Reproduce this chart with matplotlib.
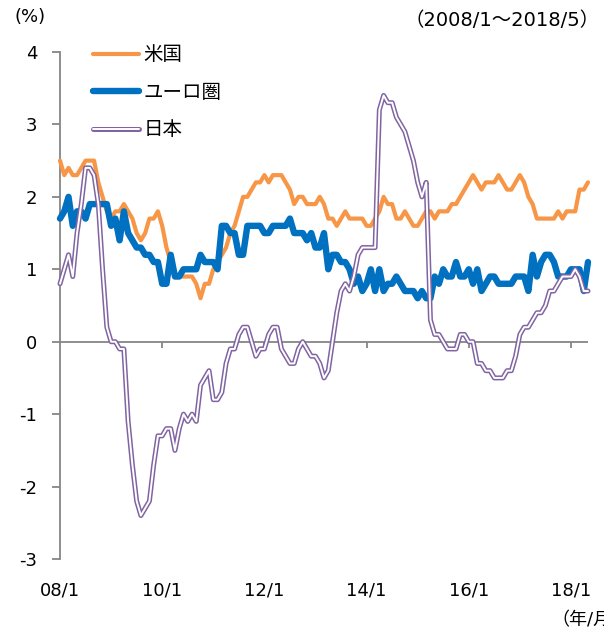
import numpy as np
import matplotlib
matplotlib.use("Agg")
import matplotlib.pyplot as plt
from matplotlib.legend_handler import HandlerTuple

plt.rcParams['font.family'] = ['DejaVu Sans', 'Noto Sans CJK JP']

# 月次データ 2008/1〜2018/5（前年比, %）
us = [2.5, 2.3, 2.4, 2.3, 2.3, 2.4, 2.5, 2.5, 2.5, 2.2, 2.0, 1.8,
      1.7, 1.8, 1.8, 1.9, 1.8, 1.7, 1.5, 1.4, 1.5, 1.7, 1.7, 1.8,
      1.6, 1.3, 1.1, 0.9, 0.9, 0.9, 0.9, 0.9, 0.8, 0.6, 0.8, 0.8,
      1.0, 1.1, 1.2, 1.3, 1.5, 1.6, 1.8, 2.0, 2.0, 2.1, 2.2, 2.2,
      2.3, 2.2, 2.3, 2.3, 2.3, 2.2, 2.1, 1.9, 2.0, 2.0, 1.9, 1.9,
      1.9, 2.0, 1.9, 1.7, 1.7, 1.6, 1.7, 1.8, 1.7, 1.7, 1.7, 1.7,
      1.6, 1.6, 1.7, 1.8, 2.0, 1.9, 1.9, 1.7, 1.7, 1.8, 1.7, 1.6,
      1.6, 1.7, 1.8, 1.8, 1.7, 1.8, 1.8, 1.8, 1.9, 1.9, 2.0, 2.1,
      2.2, 2.3, 2.2, 2.1, 2.2, 2.2, 2.2, 2.3, 2.2, 2.1, 2.1, 2.2,
      2.3, 2.2, 2.0, 1.9, 1.7, 1.7, 1.7, 1.7, 1.7, 1.8, 1.7, 1.8,
      1.8, 1.8, 2.1, 2.1, 2.2]

euro = [1.7, 1.8, 2.0, 1.6, 1.8, 1.8, 1.7, 1.9, 1.9, 1.9, 1.9, 1.9,
        1.6, 1.7, 1.4, 1.8, 1.5, 1.4, 1.3, 1.3, 1.2, 1.2, 1.1, 1.1,
        0.8, 0.8, 1.2, 0.9, 0.9, 1.0, 1.0, 1.0, 1.0, 1.2, 1.1, 1.1,
        1.1, 1.0, 1.6, 1.6, 1.5, 1.5, 1.2, 1.2, 1.6, 1.6, 1.6, 1.6,
        1.5, 1.5, 1.6, 1.6, 1.6, 1.6, 1.7, 1.5, 1.5, 1.5, 1.4, 1.5,
        1.3, 1.3, 1.5, 1.0, 1.2, 1.2, 1.1, 1.1, 1.0, 0.8, 0.9, 0.7,
        0.8, 1.0, 0.7, 1.0, 0.7, 0.8, 0.8, 0.9, 0.8, 0.7, 0.7, 0.7,
        0.6, 0.7, 0.6, 0.6, 0.9, 0.8, 1.0, 0.9, 0.9, 1.1, 0.9, 0.9,
        1.0, 0.8, 1.0, 0.7, 0.8, 0.9, 0.9, 0.8, 0.8, 0.8, 0.8, 0.9,
        0.9, 0.9, 0.7, 1.2, 0.9, 1.1, 1.2, 1.2, 1.1, 0.9, 0.9, 0.9,
        1.0, 1.0, 1.0, 0.7, 1.1]

japan = [0.8, 1.0, 1.2, 0.9, 1.5, 1.9, 2.4, 2.4, 2.3, 1.9, 1.0, 0.2,
         0.0, 0.0, -0.1, -0.1, -1.1, -1.7, -2.2, -2.4, -2.3, -2.2, -1.7, -1.3,
         -1.3, -1.2, -1.2, -1.5, -1.2, -1.0, -1.1, -1.0, -1.1, -0.6, -0.5, -0.4,
         -0.8, -0.8, -0.7, -0.3, -0.1, -0.1, 0.1, 0.2, 0.2, 0.0, -0.2, -0.1,
         -0.1, 0.1, 0.2, 0.2, -0.1, -0.2, -0.3, -0.3, -0.1, 0.0, -0.1, -0.2,
         -0.2, -0.3, -0.5, -0.4, 0.0, 0.4, 0.7, 0.8, 0.7, 0.9, 1.2, 1.3,
         1.3, 1.3, 1.3, 3.2, 3.4, 3.3, 3.3, 3.1, 3.0, 2.9, 2.7, 2.5,
         2.2, 2.0, 2.2, 0.3, 0.1, 0.1, 0.0, -0.1, -0.1, -0.1, 0.1, 0.1,
         0.0, 0.0, -0.3, -0.3, -0.4, -0.4, -0.5, -0.5, -0.5, -0.4, -0.4, -0.2,
         0.1, 0.2, 0.2, 0.3, 0.4, 0.4, 0.5, 0.7, 0.7, 0.8, 0.9, 0.9,
         0.9, 1.0, 0.9, 0.7, 0.7]

tick_labels = ['08/1', '10/1', '12/1', '14/1', '16/1', '18/1']
yticks = [-3, -2, -1, 0, 1, 2, 3, 4]

gray = '#868686'
fs = 13

months = np.arange(len(us))
xticks = np.arange(0, len(us), 24)

fig = plt.figure(figsize=(6.04, 6.29), dpi=100)
ax = fig.add_axes([60/604, 70/629, 528/604, 507/629])

ax.axhline(0, color=gray, lw=1.3, zorder=1)
ax.vlines(xticks[1:], -0.085, 0, color=gray, lw=1.3, zorder=1)

l_us, = ax.plot(months, us, color='#F79646', lw=3.0, clip_on=False,
                solid_capstyle='round', zorder=3)
l_eu, = ax.plot(months, euro, color='#0070C0', lw=4.6, clip_on=False,
                solid_capstyle='round', zorder=4)
l_jp1, = ax.plot(months, japan, color='#8064A2', lw=3.6, clip_on=False,
                 solid_capstyle='round', zorder=5)
l_jp2, = ax.plot(months, japan, color='white', lw=1.4, clip_on=False,
                 solid_capstyle='round', zorder=6)

ax.set_xlim(0, len(us) - 1)
ax.set_ylim(-3, 4)
ax.set_yticks(yticks)
ax.set_yticklabels([str(v) for v in yticks], fontsize=fs)
ax.set_xticks(xticks)
ax.set_xticklabels(tick_labels, fontsize=fs)
ax.tick_params(axis='x', length=0, pad=16)
ax.tick_params(axis='y', length=5.5, width=1.3, color=gray, pad=11)

for s in ['top', 'right', 'bottom']:
    ax.spines[s].set_visible(False)
ax.spines['left'].set_color(gray)
ax.spines['left'].set_linewidth(1.3)

ax.legend([l_us, l_eu, (l_jp1, l_jp2)], ['米国', 'ユーロ圏', '日本'],
          handler_map={tuple: HandlerTuple(ndivide=1)},
          loc='upper left', bbox_to_anchor=(0.062, 1.013), frameon=False,
          fontsize=14, handlelength=2.4, handletextpad=0.2,
          labelspacing=0.95, borderpad=0, borderaxespad=0)

fig.text(15/604, 1 - 17/629, '(%)', fontsize=fs, ha='left', va='center')
fig.text(600/604, 1 - 20/629, '（2008/1～2018/5）', fontsize=14,
         ha='right', va='center')
fig.text(551/604, 1 - 620/629, '（年/月）', fontsize=fs, ha='left', va='center')

fig.savefig('out.png', dpi=100)
